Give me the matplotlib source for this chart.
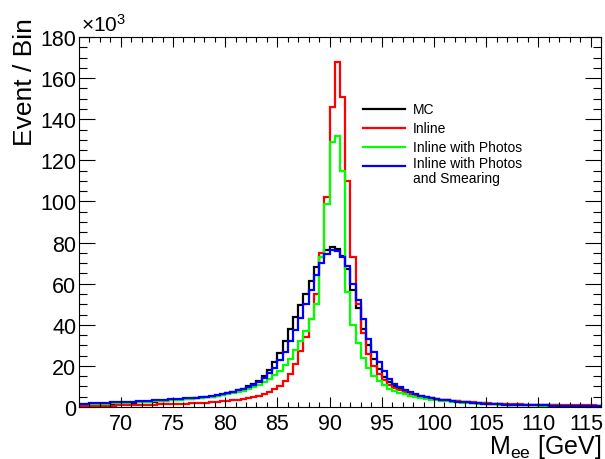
import numpy as np
import matplotlib
matplotlib.use('Agg')
import matplotlib.pyplot as plt
from matplotlib.transforms import ScaledTranslation

plt.rcParams['font.family'] = ['Liberation Sans', 'DejaVu Sans']
plt.rcParams['mathtext.fontset'] = 'custom'
plt.rcParams['mathtext.rm'] = 'Liberation Sans'
plt.rcParams['mathtext.it'] = 'Liberation Sans:italic'

# bin edges, 0.5 GeV bins from 66 to 116
edges = np.arange(66.0, 116.01, 0.5)

# events per bin, in units of 10^3
mc = [1.0, 1.1, 1.2, 1.3, 1.4, 1.5, 1.6, 1.7,
      1.8, 1.9, 2.0, 2.2, 2.3, 2.5, 2.6, 2.8, 3.0, 3.2,
      3.4, 3.6, 3.8, 4.0, 4.2, 4.5, 4.8, 5.1, 5.5, 6.0,
      6.6, 7.3, 8.1, 9.0, 10.0, 11.2, 12.8, 15.0, 18.0, 22.0,
      26.5, 32.0, 38.0, 44.0, 49.5, 55.0, 61.5, 68.0, 73.0, 76.5,
      78.0, 77.0, 73.5, 67.0, 57.0, 48.0, 38.0, 30.0, 23.5, 18.5,
      14.5, 12.0, 10.0, 8.7, 7.6, 6.7, 6.0, 5.3, 4.8, 4.4,
      4.0, 3.6, 3.3, 3.0, 2.7, 2.5, 2.3, 2.1, 1.9, 1.8,
      1.6, 1.5, 1.4, 1.3, 1.2, 1.1, 1.05, 1.0, 0.95, 0.9,
      0.85, 0.8, 0.78, 0.75, 0.72, 0.7, 0.68, 0.66, 0.64, 0.62, 0.6, 0.58]

inline = [0.4, 0.45, 0.5, 0.55, 0.6, 0.65, 0.7, 0.75,
          0.8, 0.85, 0.9, 1.0, 1.05, 1.1, 1.2, 1.25, 1.3, 1.4,
          1.5, 1.6, 1.7, 1.8, 1.9, 2.0, 2.1, 2.3, 2.5, 2.7,
          3.0, 3.3, 3.6, 3.9, 4.2, 4.7, 5.4, 6.2, 7.3, 8.6,
          10.4, 12.8, 16.0, 21.0, 27.4, 34.0, 43.0, 55.0, 75.0, 102.0,
          146.0, 168.0, 151.0, 110.0, 73.0, 50.0, 36.0, 26.0, 20.0, 16.0,
          13.0, 10.8, 9.4, 8.2, 7.2, 6.4, 5.7, 5.1, 4.6, 4.2,
          3.8, 3.5, 3.2, 3.0, 2.8, 2.6, 2.4, 2.2, 2.1, 2.0,
          1.85, 1.7, 1.6, 1.5, 1.4, 1.3, 1.25, 1.2, 1.15, 1.1,
          1.05, 1.0, 0.95, 0.9, 0.88, 0.85, 0.82, 0.8, 0.78, 0.76, 0.74, 0.72]

photos = [1.3, 1.35, 1.4, 1.5, 1.6, 1.7, 1.8, 1.9,
          2.0, 2.1, 2.2, 2.4, 2.5, 2.6, 2.8, 2.9, 3.1, 3.3,
          3.4, 3.6, 3.8, 4.0, 4.2, 4.4, 4.7, 5.0, 5.3, 5.7,
          6.1, 6.6, 7.2, 7.9, 8.7, 9.6, 10.7, 12.0, 13.5, 15.5,
          17.7, 20.5, 23.5, 27.5, 32.0, 37.0, 43.0, 50.0, 73.0, 99.0,
          129.0, 132.0, 115.0, 56.0, 40.0, 31.0, 24.0, 19.0, 15.0, 12.5,
          10.5, 9.0, 8.0, 7.0, 6.2, 5.5, 4.9, 4.4, 4.0, 3.6,
          3.3, 3.0, 2.7, 2.5, 2.3, 2.1, 1.9, 1.8, 1.6, 1.5,
          1.4, 1.3, 1.2, 1.1, 1.0, 0.95, 0.9, 0.85, 0.8, 0.76,
          0.72, 0.68, 0.65, 0.62, 0.6, 0.58, 0.56, 0.54, 0.52, 0.5, 0.49, 0.48]

smear = [1.6, 1.7, 1.8, 1.9, 2.0, 2.1, 2.2, 2.3,
         2.4, 2.5, 2.6, 2.8, 2.9, 3.0, 3.2, 3.3, 3.5, 3.7,
         3.8, 4.0, 4.2, 4.4, 4.6, 4.8, 5.1, 5.4, 5.8, 6.2,
         6.8, 7.4, 8.1, 8.9, 9.8, 10.9, 12.3, 14.0, 16.3, 19.2,
         22.8, 27.0, 32.0, 37.5, 43.5, 50.0, 57.0, 64.0, 70.0, 74.5,
         76.5, 76.0, 73.0, 68.5, 60.0, 52.0, 43.0, 33.0, 27.0, 22.0,
         17.7, 13.8, 11.3, 9.6, 8.3, 7.2, 6.2, 5.5, 4.9, 4.4,
         4.0, 3.6, 3.2, 2.9, 2.6, 2.4, 2.2, 2.0, 1.8, 1.6,
         1.5, 1.4, 1.3, 1.2, 1.1, 1.05, 1.0, 0.95, 0.9, 0.85,
         0.8, 0.76, 0.72, 0.7, 0.68, 0.66, 0.64, 0.62, 0.6, 0.58, 0.56, 0.55]

labels = ['MC', 'Inline', 'Inline with Photos', 'Inline with Photos\nand Smearing']
colors = ['black', '#ff0000', '#00ff00', '#0000ff']
series = [mc, inline, photos, smear]

fig = plt.figure(figsize=(6.05, 4.6), dpi=100)
ax = fig.add_axes([79/605, 1-408/460, 522/605, 370/460])

for vals, c in zip(series, colors):
    ax.stairs(vals, edges, color=c, lw=1.6, baseline=None)

ax.set_xlim(66, 116)
ax.set_ylim(0, 180)
ax.set_xticks(np.arange(70, 116, 5))
ax.set_xticks(np.arange(66, 117, 1), minor=True)
ax.set_yticks(np.arange(0, 181, 20))
ax.set_yticks(np.arange(0, 181, 5), minor=True)
ax.tick_params(axis='both', which='both', direction='in', top=True, right=True,
               labelsize=15.5, width=0.8)
ax.tick_params(axis='x', which='major', length=7.5, pad=4)
ax.tick_params(axis='x', which='minor', length=3.8)
ax.tick_params(axis='y', which='major', length=11.5, pad=2)
ax.tick_params(axis='y', which='minor', length=5.8)
for s in ax.spines.values():
    s.set_linewidth(0.8)

# keep the last x label inside the canvas
fig.canvas.draw()
last = ax.get_xticklabels()[-1]
last.set_transform(last.get_transform() + ScaledTranslation(-4/100, 0, fig.dpi_scale_trans))

# legend, drawn by hand in ROOT style
ly = [0.805, 0.754, 0.703, 0.651]
for y, c, lab in zip(ly, colors, labels):
    ax.plot([0.544, 0.6245], [y, y], color=c, lw=1.6, transform=ax.transAxes)
    if '\n' in lab:
        ax.text(0.6398, y + 0.027, lab, transform=ax.transAxes, fontsize=10,
                va='top', linespacing=1.05)
    else:
        ax.text(0.6398, y, lab, transform=ax.transAxes, fontsize=10, va='center')

fig.text(81/605, 1-36/460, r'$\times$10$^{3}$', fontsize=15, ha='left', va='bottom')
fig.text(25/605, 1-18/460, 'Event / Bin', fontsize=19, rotation=90,
         ha='center', va='top')
fig.text(601/605, 1-447/460, r'M$_{\mathrm{ee}}$ [GeV]', fontsize=18,
         ha='right', va='center')

fig.savefig('out.png', dpi=100)
